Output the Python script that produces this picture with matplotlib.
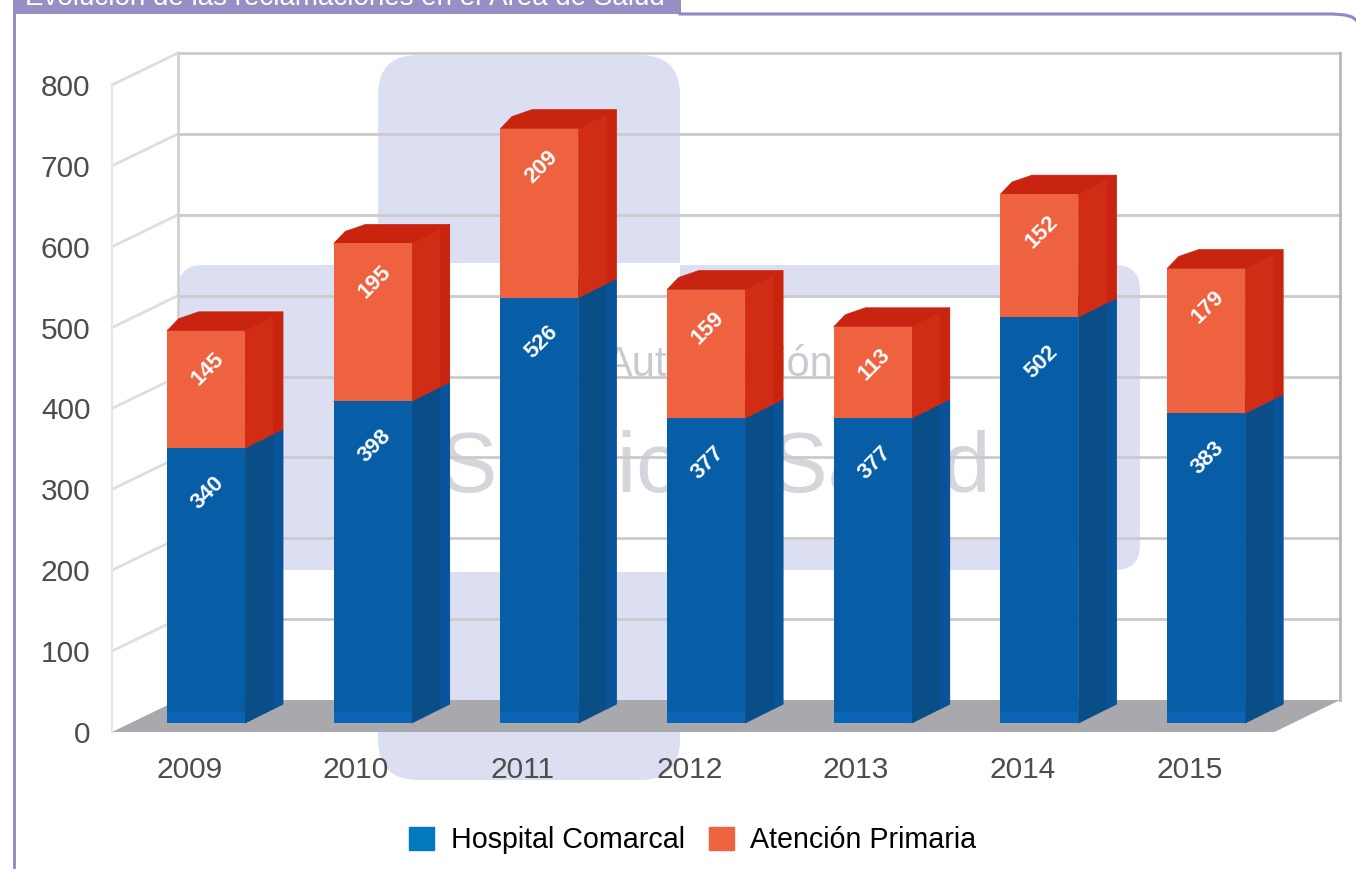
import numpy as np
import matplotlib
matplotlib.use('Agg')
import matplotlib.pyplot as plt
from matplotlib.patches import Polygon, Rectangle, FancyBboxPatch, Patch

years = ['2009', '2010', '2011', '2012', '2013', '2014', '2015']
hospital = [340, 398, 526, 377, 377, 502, 383]
primaria = [145, 195, 209, 159, 113, 152, 179]
y_ticks = [0, 100, 200, 300, 400, 500, 600, 700, 800]
title = 'Evolución de las reclamaciones en el Área de Salud'

W, H = 1356, 869
plt.rcParams['font.family'] = ['Liberation Sans', 'DejaVu Sans']
fig = plt.figure(figsize=(W / 100, H / 100), dpi=100, facecolor='white')

# background layer in pixels: frame, title tab and the faint watermark
bg = fig.add_axes([0, 0, 1, 1])
bg.set_xlim(0, W)
bg.set_ylim(H, 0)
bg.axis('off')

lav = '#dcdff2'
bg.add_patch(FancyBboxPatch((378, 55), 302, 725, boxstyle='round,pad=0,rounding_size=40', fc=lav, ec='none'))
bg.add_patch(FancyBboxPatch((178, 265), 962, 305, boxstyle='round,pad=0,rounding_size=25', fc=lav, ec='none'))
bg.add_patch(Rectangle((440, 263), 240, 309, fc='white', ec='none'))
bg.add_patch(Rectangle((680, 298), 320, 242, fc='white', ec='none'))
bg.add_patch(Rectangle((1000, 298), 115, 242, fc='#eceef8', ec='none'))
bg.text(605, 365, 'Autorización', fontsize=30, color='#c9c9d2', ha='left', va='center')
bg.text(440, 470, 'Servicio Salud', fontsize=62, color='#d5d5dc', ha='left', va='center')

frame = '#8f88c6'
bg.add_patch(Rectangle((13, 0), 668, 14, fc='#9690c4', ec='none'))
bg.plot([13.5, 13.5], [14, H], color=frame, lw=2)
bg.plot([680, 1333, 1345, 1352, 1356], [14, 14, 15, 17, 20], color=frame, lw=2.2)
bg.text(25, 5, title, fontsize=20, color='white', ha='left', va='baseline')

# chart plane: value v sits at py = 732 - 0.809 v, year i at px = 206 + 166.7 i
ax = fig.add_axes([112 / W, (H - 732) / H, (1340 - 112) / W, (732 - 52.6) / H])
ax.patch.set_alpha(0)
ax.set_xlim(-0.564, 6.803)
ax.set_ylim(0, 840)
for s in ax.spines.values():
    s.set_visible(False)

x = np.arange(len(years))
wall_dx, wall_dy = 0.396, 39.5
bar_w, bar_dx, bar_dy, base = 0.468, 0.228, 23.5, 11

# floor and walls
ax.add_patch(Polygon([(-0.564, 0), (6.41, 0), (6.803, wall_dy), (-0.564 + wall_dx, wall_dy)], fc='#a9a9ad', ec='none', zorder=1))
for v in y_ticks[1:]:
    ax.plot([-0.564, -0.564 + wall_dx], [v, v + wall_dy], color='#dedede', lw=2, zorder=1, clip_on=False)
    ax.plot([-0.564 + wall_dx, 6.803], [v + wall_dy, v + wall_dy], color='#cbcbcd', lw=2, zorder=1, clip_on=False)
ax.plot([-0.564 + wall_dx] * 2, [wall_dy, 800 + wall_dy], color='#d2d2d2', lw=2, zorder=1, clip_on=False)
ax.plot([6.803, 6.803], [wall_dy, 800 + wall_dy], color='#b8b8b8', lw=2, zorder=1, clip_on=False)
ax.plot([-0.564, -0.564], [0, 800], color='#e6e6e6', lw=1.5, zorder=1, clip_on=False)


def draw_block(xc, y0, y1, side, top):
    l, r = xc - bar_w / 2, xc + bar_w / 2
    ax.add_patch(Polygon([(r, y0), (r + bar_dx, y0 + bar_dy), (r + bar_dx, y1 + bar_dy), (r, y1)], fc=side, ec=side, lw=0.5, zorder=3))
    ax.add_patch(Polygon([(r + 0.17, y0 + 17), (r + bar_dx, y0 + bar_dy), (r + bar_dx, y1 + bar_dy), (r + 0.17, y1 + 17)], fc=top, ec='none', zorder=3))
    ax.add_patch(Polygon([(l, y1), (r, y1), (r + bar_dx, y1 + bar_dy), (l + 0.19, y1 + bar_dy), (l + 0.07, y1 + 15)], fc=top, ec=top, lw=0.5, zorder=3))


for i in x:
    t1 = base + hospital[i]
    t2 = t1 + primaria[i]
    draw_block(x[i], base, t1, '#0a4e88', '#08539a')
    draw_block(x[i], t1, t2, '#d02d14', '#c8240f')

# front faces go through bar so the heights come from the axes scale
ax.bar(x, hospital, bottom=base, width=bar_w, color='#075ea6', zorder=4)
ax.bar(x, primaria, bottom=np.array(hospital) + base, width=bar_w, color='#ef6240', zorder=4)
ax.bar(x, [14] * len(x), bottom=base, width=bar_w, color='#0a66b4', zorder=4)

for i in x:
    t1 = base + hospital[i]
    t2 = t1 + primaria[i]
    ax.text(x[i] + 0.012, t1 - 55, str(hospital[i]), color='white', fontsize=16, weight='bold', rotation=45, ha='center', va='center', zorder=5)
    ax.text(x[i] + 0.012, t2 - 47, str(primaria[i]), color='white', fontsize=16, weight='bold', rotation=45, ha='center', va='center', zorder=5)

ax.set_yticks(y_ticks)
ax.set_xticks(x - 0.1)
ax.set_xticklabels(years)
ax.tick_params(axis='y', length=0, pad=15.5, labelsize=21.5, labelcolor='#4d4d4d')
ax.tick_params(axis='x', length=0, pad=17, labelsize=21.5, labelcolor='#4d4d4d')

handles = [Patch(color='#0079bf', label='Hospital Comarcal'), Patch(color='#ef6240', label='Atención Primaria')]
fig.legend(handles=handles, loc='center', bbox_to_anchor=(693 / W, (H - 840) / H), ncol=2, frameon=False,
           fontsize=20.6, handlelength=0.86, handleheight=0.86, handletextpad=0.58, columnspacing=0.86,
           labelcolor='black')

fig.savefig('out.png', dpi=100, facecolor='white')
